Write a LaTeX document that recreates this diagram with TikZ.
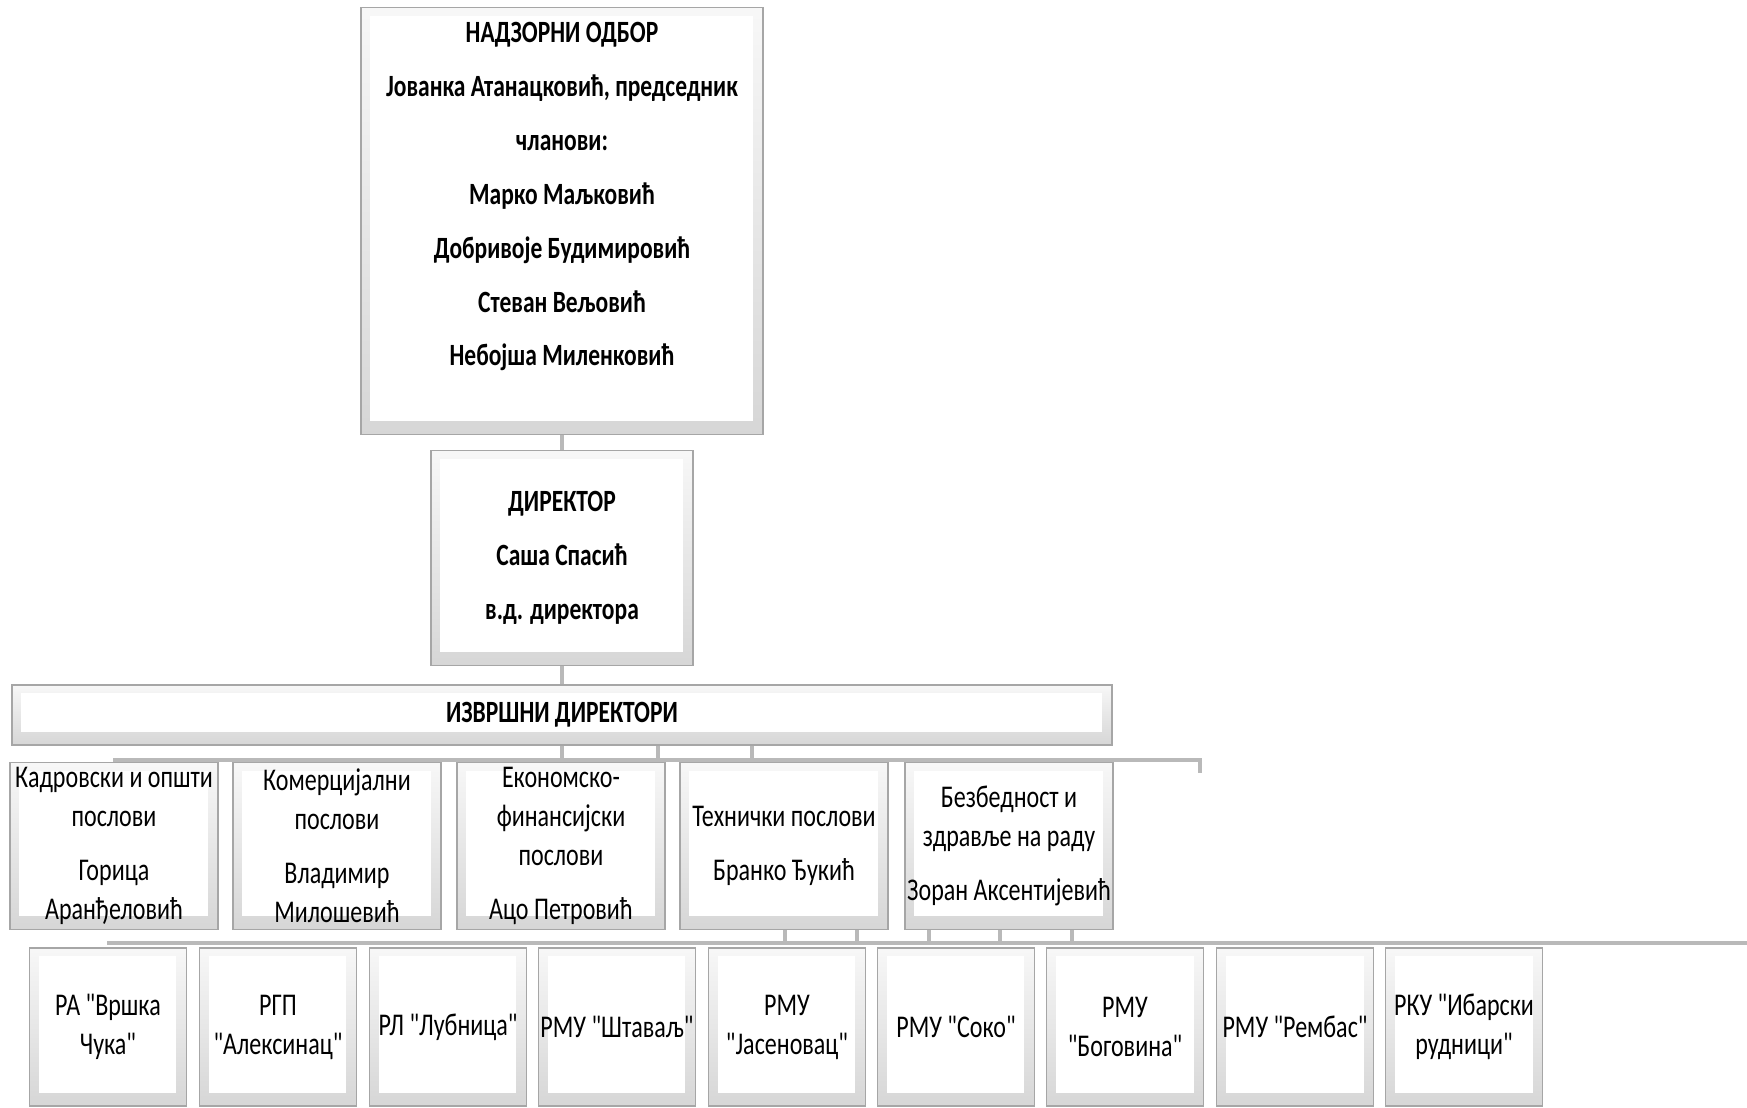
\documentclass[tikz,border=0pt]{standalone}
\usepackage{fontspec}
\newfontfamily\orgfont{Carlito}[FakeStretch=0.76]
\usetikzlibrary{calc}

\begin{document}
\begin{tikzpicture}[x=0.02cm,y=-0.02cm,
    every node/.style={align=center,inner sep=0pt},
    bevel/.style={draw=gray!70,line width=0.8pt,
      path picture={\shade[top color=gray!6,bottom color=gray!32]
        (path picture bounding box.north west) rectangle (path picture bounding box.south east);
        \fill[white] ($(path picture bounding box.north west)+(9,8)$)
        rectangle ($(path picture bounding box.south east)+(-10,-13)$);}},
    head/.style={bevel,font=\orgfont\bfseries\fontsize{17.6}{30.7}\selectfont},
    dept/.style={bevel,minimum width=4.16cm,minimum height=3.34cm,
      font=\orgfont\fontsize{18}{22.2}\selectfont},
    unit/.style={bevel,minimum width=3.14cm,minimum height=3.16cm,
      font=\orgfont\fontsize{18}{22.2}\selectfont},
    link/.style={draw=gray!55,line width=2.2pt}]
  \useasboundingbox (0,0) rectangle (1747,1108);

  % uprava
  \node[head,minimum width=8.04cm,minimum height=8.54cm] (nadzor) at (562,221)
    {НАДЗОРНИ ОДБОР\\Јованка Атанацковић, председник\\чланови:\\Марко Маљковић\\
     Добривоје Будимировић\\Стеван Вељовић\\Небојша Миленковић\\ \mbox{}};
  \node[head,minimum width=5.24cm,minimum height=4.3cm] (dir) at (562,558)
    {ДИРЕКТОР\\Саша Спасић\\в.д. директора};
  \node[head,minimum width=22cm,minimum height=1.2cm] (izv) at (562,715)
    {ИЗВРШНИ ДИРЕКТОРИ};

  % sektori
  \node[dept] (kadr) at (114,846) {Кадровски и општи\\послови\\[0.3cm]Горица\\Аранђеловић};
  \node[dept] (kom)  at (337,846) {Комерцијални\\послови\\[0.3cm]Владимир\\Милошевић};
  \node[dept] (ekon) at (561,846) {Економско-\\финансијски\\послови\\[0.3cm]Ацо Петровић};
  \node[dept] (teh)  at (784,846) {Технички послови\\[0.3cm]Бранко Ђукић};
  \node[dept] (bzr)  at (1009,846) {Безбедност и\\здравље на раду\\[0.3cm]Зоран Аксентијевић};

  % rudnici
  \node[unit] (vrska) at (108,1027) {РА "Вршка\\Чука"};
  \node[unit] (aleks) at (278,1027) {РГП\\"Алексинац"};
  \node[unit] (lubn)  at (448,1027) {РЛ "Лубница"};
  \node[unit] (stav)  at (617,1027) {РМУ "Штаваљ"};
  \node[unit] (jasen) at (787,1027) {РМУ\\"Јасеновац"};
  \node[unit] (soko)  at (956,1027) {РМУ "Соко"};
  \node[unit] (bogov) at (1125,1027) {РМУ\\"Боговина"};
  \node[unit] (remb)  at (1295,1027) {РМУ "Рембас"};
  \node[unit] (ibar)  at (1464,1027) {РКУ "Ибарски\\рудници"};

  % veze
  \draw[link] (nadzor) -- (dir);
  \draw[link] (dir) -- (izv);
  \coordinate (busA) at (113,760);
  \coordinate (busAend) at (1200,760);
  \coordinate (busAtip) at (1200,773);
  \draw[link] (busA) -- (busAend) -- (busAtip);
  \foreach \x in {562,658,752}
    \draw[link] (\x,0 |- izv.south) -- (\x,0 |- busA);
  \coordinate (busB) at (107,943);
  \coordinate (busBend) at (1747,943);
  \draw[link] (busB) -- (busBend);
  \foreach \x in {785,857}
    \draw[link] (\x,0 |- teh.south) -- (\x,0 |- busB);
  \foreach \x in {929,1000,1072}
    \draw[link] (\x,0 |- bzr.south) -- (\x,0 |- busB);
\end{tikzpicture}
\end{document}
